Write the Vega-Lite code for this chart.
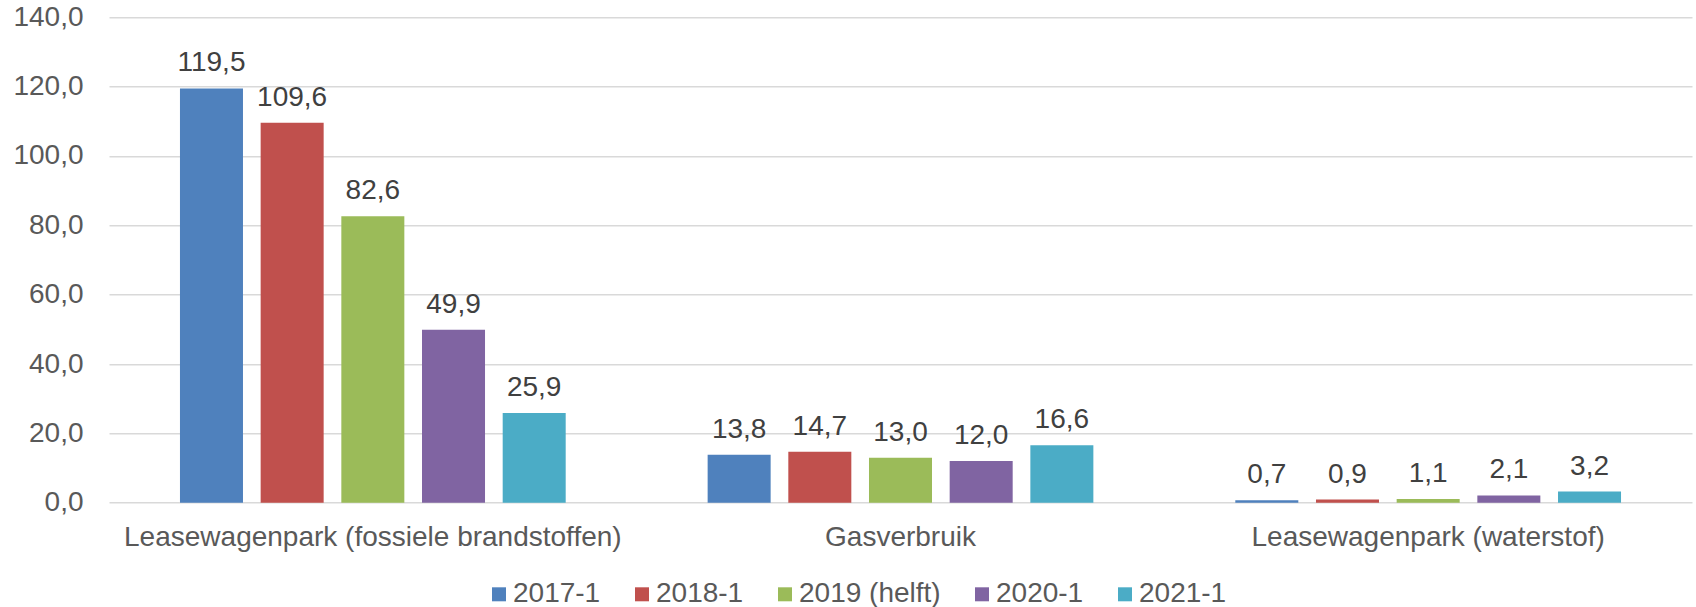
{
  "$schema": "https://vega.github.io/schema/vega-lite/v6.json",
  "width": 1583,
  "height": 485.4,
  "autosize": {"type": "none"},
  "padding": {"left": 109, "top": 17.3, "right": 4, "bottom": 104.3},
  "background": "white",
  "config": {
    "view": {"stroke": null},
    "font": "Liberation Sans",
    "locale": {"number": {"decimal": ",", "thousands": ".", "grouping": [3], "currency": ["€", ""]}}
  },
  "data": {
    "values": [
      {"categorie": "Leasewagenpark (fossiele brandstoffen)", "periode": "2017-1", "waarde": 119.5},
      {"categorie": "Leasewagenpark (fossiele brandstoffen)", "periode": "2018-1", "waarde": 109.6},
      {"categorie": "Leasewagenpark (fossiele brandstoffen)", "periode": "2019 (helft)", "waarde": 82.6},
      {"categorie": "Leasewagenpark (fossiele brandstoffen)", "periode": "2020-1", "waarde": 49.9},
      {"categorie": "Leasewagenpark (fossiele brandstoffen)", "periode": "2021-1", "waarde": 25.9},
      {"categorie": "Gasverbruik", "periode": "2017-1", "waarde": 13.8},
      {"categorie": "Gasverbruik", "periode": "2018-1", "waarde": 14.7},
      {"categorie": "Gasverbruik", "periode": "2019 (helft)", "waarde": 13.0},
      {"categorie": "Gasverbruik", "periode": "2020-1", "waarde": 12.0},
      {"categorie": "Gasverbruik", "periode": "2021-1", "waarde": 16.6},
      {"categorie": "Leasewagenpark (waterstof)", "periode": "2017-1", "waarde": 0.7},
      {"categorie": "Leasewagenpark (waterstof)", "periode": "2018-1", "waarde": 0.9},
      {"categorie": "Leasewagenpark (waterstof)", "periode": "2019 (helft)", "waarde": 1.1},
      {"categorie": "Leasewagenpark (waterstof)", "periode": "2020-1", "waarde": 2.1},
      {"categorie": "Leasewagenpark (waterstof)", "periode": "2021-1", "waarde": 3.2}
    ]
  },
  "encoding": {
    "x": {
      "field": "categorie",
      "type": "nominal",
      "sort": null,
      "scale": {"paddingInner": 0.269, "paddingOuter": 0.1345},
      "axis": {
        "title": null,
        "labelAngle": 0,
        "domain": false,
        "ticks": false,
        "tickSize": 0,
        "labelFontSize": 28,
        "labelColor": "#595959",
        "labelPadding": 21,
        "labelBaseline": "top",
        "labelLimit": 1000
      }
    },
    "xOffset": {
      "field": "periode",
      "type": "nominal",
      "sort": null,
      "scale": {"paddingInner": 0.219, "paddingOuter": 0}
    },
    "y": {
      "field": "waarde",
      "type": "quantitative",
      "scale": {"domain": [0, 140], "nice": false},
      "axis": {
        "title": null,
        "values": [0, 20, 40, 60, 80, 100, 120, 140],
        "format": ".1f",
        "domain": false,
        "ticks": false,
        "tickSize": 0,
        "grid": true,
        "gridColor": "#d9d9d9",
        "gridWidth": 1.5,
        "labelFontSize": 28,
        "labelColor": "#595959",
        "labelPadding": 26,
        "labelBaseline": "middle"
      }
    }
  },
  "layer": [
    {
      "mark": {"type": "bar"},
      "encoding": {
        "color": {
          "field": "periode",
          "type": "nominal",
          "sort": null,
          "scale": {
            "domain": ["2017-1", "2018-1", "2019 (helft)", "2020-1", "2021-1"],
            "range": ["#4F81BD", "#C0504D", "#9BBB59", "#8064A2", "#4BACC6"]
          },
          "legend": {
            "title": null,
            "orient": "none",
            "direction": "horizontal",
            "columns": 5,
            "legendX": 376,
            "legendY": 563,
            "padding": 0,
            "symbolType": "square",
            "symbolSize": 196,
            "symbolStrokeWidth": 0,
            "symbolOpacity": 1,
            "labelFontSize": 28,
            "labelColor": "#595959",
            "labelOffset": 0,
            "columnPadding": 27,
            "labelLimit": 400
          }
        }
      }
    },
    {
      "mark": {"type": "text", "baseline": "alphabetic", "dy": -17, "fontSize": 28, "color": "#404040"},
      "encoding": {
        "text": {"field": "waarde", "type": "quantitative", "format": ".1f"}
      }
    }
  ]
}
